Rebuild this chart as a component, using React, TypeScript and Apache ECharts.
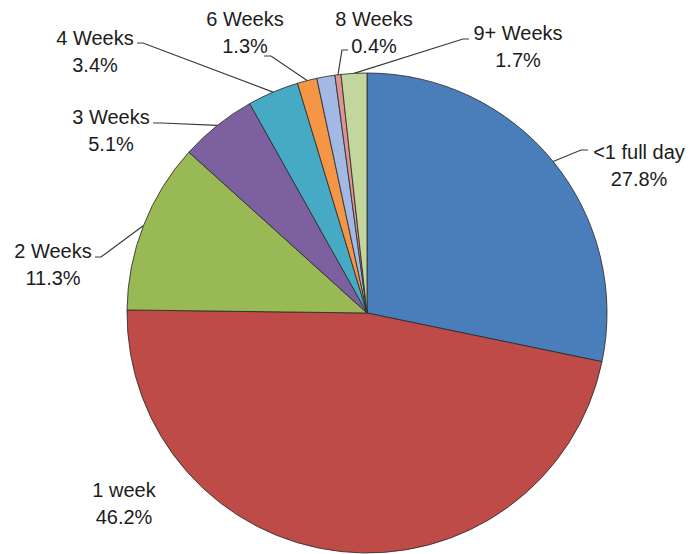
import React, { useEffect, useRef } from "react";
import * as echarts from "echarts";

// Time taken, share of responses (%)
const categories = [
  "<1 full day",
  "1 week",
  "2 Weeks",
  "3 Weeks",
  "4 Weeks",
  "6 Weeks",
  "7 Weeks",
  "8 Weeks",
  "9+ Weeks",
];
const shares = [27.8, 46.2, 11.3, 5.1, 3.4, 1.3, 1.2, 0.4, 1.7];
const showLabel = [true, true, true, true, true, true, false, true, true];
const showLeader = [true, false, true, true, true, true, false, true, true];

const colors = [
  "#4A7EBB",
  "#BE4B48",
  "#98B954",
  "#7D60A0",
  "#46AAC5",
  "#F59646",
  "#A1B9E3",
  "#DE9496",
  "#C3D69B",
];

// Label block centres and leader-line end / bend points (pixels)
const labelSpots = [
  { x: 639, y: 165, ex: 588, ey: 150, bx: 581 },
  { x: 124, y: 503, ex: 0, ey: 0, bx: 0 },
  { x: 53, y: 264, ex: 95, ey: 257, bx: 101 },
  { x: 111, y: 130, ex: 153, ey: 123, bx: 162 },
  { x: 95, y: 51, ex: 137, ey: 43, bx: 143 },
  { x: 245, y: 32, ex: 264, ey: 56, bx: 271 },
  { x: 0, y: 0, ex: 0, ey: 0, bx: 0 },
  { x: 374, y: 32, ex: 348, ey: 50, bx: 342 },
  { x: 518, y: 46, ex: 469, ey: 39, bx: 463 },
];

export default function App() {
  const ref = useRef<HTMLDivElement>(null);

  useEffect(() => {
    if (!ref.current) return;
    const chart = echarts.init(ref.current, null, { renderer: "svg" });

    const data = categories.map((name, i) => ({
      name,
      value: shares[i],
      itemStyle: { color: colors[i] },
      label: { show: showLabel[i] },
      labelLine: { show: showLeader[i] },
    }));

    chart.setOption({
      animation: false,
      backgroundColor: "#ffffff",
      series: [
        {
          type: "pie",
          center: [367, 313],
          radius: 240,
          startAngle: 90,
          clockwise: true,
          avoidLabelOverlap: false,
          data,
          itemStyle: {
            borderColor: "rgba(45,45,45,0.85)",
            borderWidth: 1,
          },
          emphasis: { disabled: true },
          label: {
            show: true,
            position: "outside",
            formatter: "{b}\n{c}%",
            fontFamily: "Liberation Sans, Arial, sans-serif",
            fontSize: 20,
            lineHeight: 27,
            color: "#1c1c1c",
            align: "center",
          },
          labelLine: {
            show: true,
            length: 20,
            length2: 10,
            lineStyle: { color: "#3a3a3a", width: 1.2 },
          },
          labelLayout: (params: any) => {
            const s = labelSpots[params.dataIndex];
            const out: any = {
              x: s.x,
              y: s.y,
              align: "center",
              verticalAlign: "middle",
            };
            const pts = params.labelLinePoints;
            if (pts && pts.length && s.ex) {
              out.labelLinePoints = [
                [pts[0][0], pts[0][1]],
                [s.bx, s.ey],
                [s.ex, s.ey],
              ];
            }
            return out;
          },
        },
      ],
    });

    return () => chart.dispose();
  }, []);

  return (
    <div
      ref={ref}
      style={{ position: "absolute", left: 0, top: 0, width: 691, height: 554 }}
    />
  );
}
